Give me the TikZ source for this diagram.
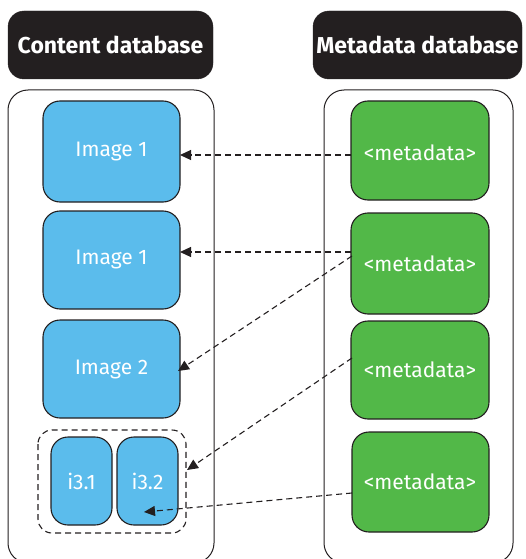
\documentclass[tikz,border=0pt]{standalone}
\usepackage{fontspec}
\setmainfont{Fira Sans}
\usetikzlibrary{arrows.meta}
\definecolor{inkdark}{HTML}{231F20}
\definecolor{contentblue}{HTML}{5BBCEC}
\definecolor{metagreen}{HTML}{52B848}
\tikzset{
  header/.style={fill=inkdark, draw=inkdark, rounded corners=16pt},
  headtext/.style={text=white, font=\fontsize{23}{27}\selectfont\bfseries},
  container/.style={draw=inkdark, line width=1pt, rounded corners=20pt},
  imgbox/.style={fill=contentblue, draw=inkdark, line width=1.1pt, rounded corners=17pt},
  imgtext/.style={text=white, font=\fontsize{21}{25}\selectfont},
  metabox/.style={fill=metagreen, draw=inkdark, line width=1.1pt, rounded corners=17pt},
  metatext/.style={text=white, font=\fontsize{21}{25}\selectfont},
  group/.style={draw=inkdark, line width=1.1pt, dash pattern=on 6pt off 4pt, rounded corners=14pt},
  link/.style={draw=inkdark, line width=1.1pt, dash pattern=on 6pt off 4pt,
    -{Triangle[length=11pt,width=10pt]}},
}
\begin{document}
\begin{tikzpicture}[x=1pt,y=-1pt]
\useasboundingbox (0,0) rectangle (526,559);

% column headers
\draw[header] (8,11) rectangle (213,79);
\node[headtext] (hcontent) at (110.5,45) {Content database};
\draw[header] (313,11) rectangle (522,79);
\node[headtext] (hmeta) at (417.5,45) {Metadata database};

% database containers
\draw[container] (8,90) rectangle (214,563);
\draw[container] (324,90) rectangle (513,563);

% content items
\draw[imgbox] (43,101) rectangle (180,202);
\node[imgtext] (img1) at (111.5,151.5) {Image 1};
\draw[imgbox] (43,211) rectangle (180,309);
\node[imgtext] (img1b) at (111.5,260) {Image 1};
\draw[imgbox] (43,320) rectangle (180,418);
\node[imgtext] (img2) at (111.5,369) {Image 2};

% split image group
\draw[group] (38,430) rectangle (186,533);
\draw[imgbox] (51,437) rectangle (112,525);
\node[imgtext] (i31) at (81.5,481) {i3.1};
\draw[imgbox] (117,437) rectangle (178,525);
\node[imgtext] (i32) at (147.5,481) {i3.2};

% metadata items
\draw[metabox] (351,101) rectangle (489,200);
\node[metatext] (m1) at (420,153) {<metadata>};
\draw[metabox] (351,213) rectangle (489,314);
\node[metatext] (m2) at (420,264) {<metadata>};
\draw[metabox] (351,321) rectangle (489,419);
\node[metatext] (m3) at (420,370) {<metadata>};
\draw[metabox] (352,432) rectangle (489,532);
\node[metatext] (m4) at (420,482) {<metadata>};

% references from metadata to content
\coordinate (s1) at (351,155);
\coordinate (t1) at (180,155);
\coordinate (s2) at (351,252);
\coordinate (t2) at (180,252);
\coordinate (s3) at (352,256);
\coordinate (t3) at (178,371);
\coordinate (s4) at (352,358);
\coordinate (t4) at (187,470);
\coordinate (s5) at (352,493);
\coordinate (t5) at (144,512);
\draw[link] (s1) -- (t1);
\draw[link] (s2) -- (t2);
\draw[link] (s3) -- (t3);
\draw[link] (s4) -- (t4);
\draw[link] (s5) -- (t5);
\end{tikzpicture}
\end{document}
